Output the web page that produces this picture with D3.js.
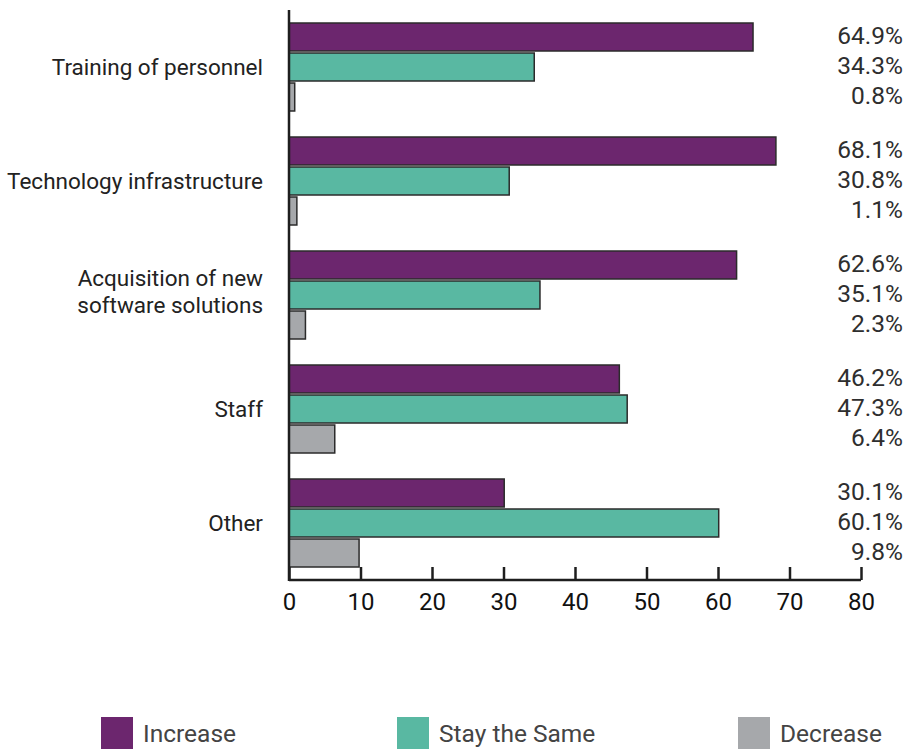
<!DOCTYPE html>
<html>
<head>
<meta charset="utf-8">
<script src="https://cdn.jsdelivr.net/npm/d3@7"></script>
<style>
  html, body { margin: 0; padding: 0; background: #fff; }
  svg text { font-family: Roboto, "Liberation Sans", Arial, sans-serif; }
</style>
</head>
<body>
<svg id="chart" width="907" height="750"></svg>
<script>
// Budget outlook by area: share of respondents expecting each change
const categories = [
  ["Training of personnel"],
  ["Technology infrastructure"],
  ["Acquisition of new", "software solutions"],
  ["Staff"],
  ["Other"]
];
const seriesNames = ["Increase", "Stay the Same", "Decrease"];
const seriesColors = ["#6c266e", "#59b8a2", "#a6a8ab"];
const increase = [64.9, 68.1, 62.6, 46.2, 30.1];
const staySame = [34.3, 30.8, 35.1, 47.3, 60.1];
const decrease = [0.8, 1.1, 2.3, 6.4, 9.8];
const xTicks = [0, 10, 20, 30, 40, 50, 60, 70, 80];

const series = [increase, staySame, decrease];
const svg = d3.select("#chart");

const catKeys = categories.map(c => c.join(" "));
const x = d3.scaleLinear().domain([0, 80]).range([289, 861]);
const y0 = d3.scaleBand().domain(catKeys).range([10, 580])
  .paddingInner(26 / 114).paddingOuter(13 / 114);
const y1 = d3.scaleBand().domain(seriesNames).range([0, y0.bandwidth()])
  .paddingInner(2 / 30).paddingOuter(0);

// Bars
const groups = svg.append("g").selectAll("g")
  .data(categories)
  .join("g")
  .attr("transform", (d, i) => `translate(0,${y0(catKeys[i])})`);

groups.each(function (cat, i) {
  const g = d3.select(this);
  seriesNames.forEach((name, s) => {
    const v = series[s][i];
    g.append("rect")
      .attr("x", x(0))
      .attr("y", y1(name))
      .attr("width", x(v) - x(0))
      .attr("height", y1.bandwidth())
      .attr("fill", seriesColors[s])
      .attr("stroke", "#2b2b2b")
      .attr("stroke-width", 1.5);
    g.append("text")
      .attr("x", 903)
      .attr("y", y1(name) + y1.bandwidth() / 2)
      .attr("dy", "0.27em")
      .attr("text-anchor", "end")
      .attr("font-size", 24.5)
      .attr("fill", "#2e2e2e")
      .text(v.toFixed(1) + "%");
  });
  // Category label, centred on the group
  const lh = 27;
  const mid = y0.bandwidth() / 2;
  const lab = g.append("text")
    .attr("text-anchor", "end")
    .attr("font-size", 22.5)
    .attr("fill", "#222");
  cat.forEach((line, k) => {
    lab.append("tspan")
      .attr("x", 263)
      .attr("y", mid + (k - (cat.length - 1) / 2) * lh)
      .attr("dy", cat.length > 1 ? "0.22em" : "0.36em")
      .text(line);
  });
});

// Axes
const xAxis = d3.axisBottom(x).tickValues(xTicks).tickSize(-13).tickPadding(13).tickFormat(d3.format("d"));
const gx = svg.append("g").attr("transform", "translate(0,580)").call(xAxis);
gx.select(".domain").attr("stroke", "#1e1e1e").attr("stroke-width", 2.5)
  .attr("d", `M${x(0)},0H${x(80)}`);
gx.selectAll(".tick line").attr("stroke", "#1e1e1e").attr("stroke-width", 2.5);
gx.selectAll(".tick text").attr("font-size", 24).attr("fill", "#111")
  .style("font-family", "Roboto, 'Liberation Sans', Arial, sans-serif");

svg.append("line")
  .attr("x1", x(0)).attr("x2", x(0))
  .attr("y1", 10).attr("y2", 581)
  .attr("stroke", "#1e1e1e").attr("stroke-width", 2.5);

// Legend
const legendX = [101, 397, 738];
const legend = svg.append("g").selectAll("g")
  .data(seriesNames)
  .join("g")
  .attr("transform", (d, i) => `translate(${legendX[i]},717)`);
legend.append("rect")
  .attr("width", 32).attr("height", 32)
  .attr("fill", (d, i) => seriesColors[i]);
legend.append("text")
  .attr("x", 42).attr("y", 16).attr("dy", "0.36em")
  .attr("font-size", 24.5).attr("fill", "#444")
  .text(d => d);
</script>
</body>
</html>
